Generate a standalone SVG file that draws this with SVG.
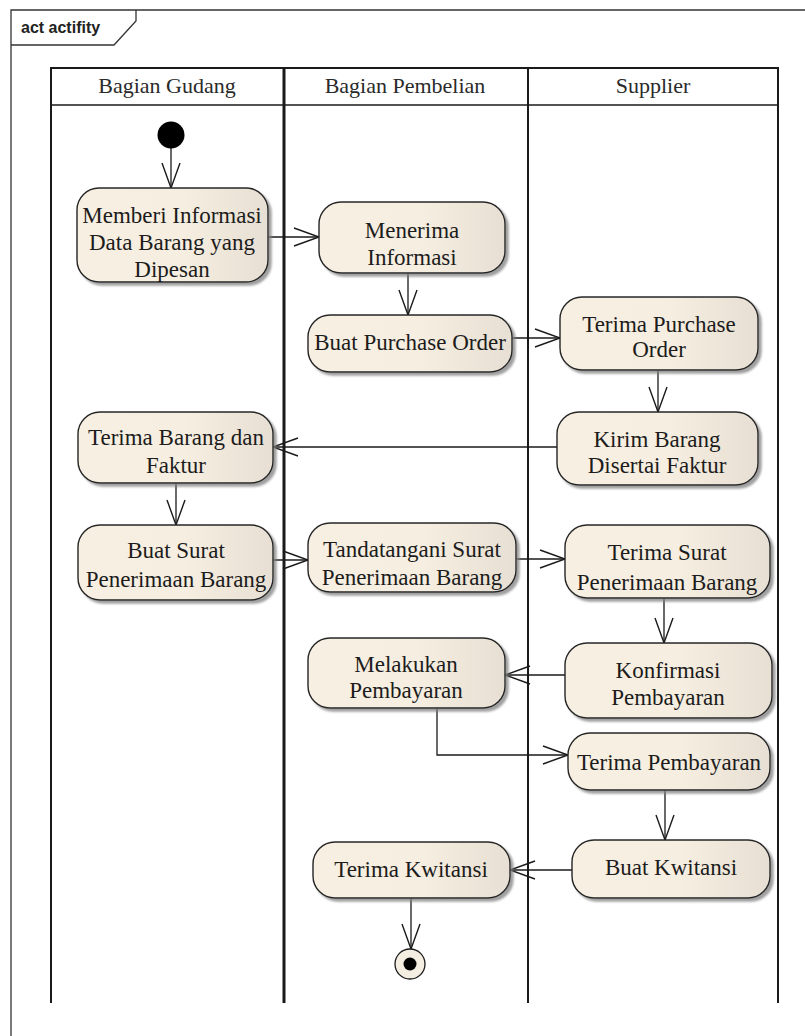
<svg xmlns="http://www.w3.org/2000/svg" width="805" height="1036" viewBox="0 0 805 1036">
  <defs>
    <linearGradient id="nodeFill" x1="0" y1="0" x2="1" y2="0">
      <stop offset="0" stop-color="#f7efe1"/>
      <stop offset="0.55" stop-color="#f6eee0"/>
      <stop offset="1" stop-color="#e7dfd3"/>
    </linearGradient>
    <filter id="shadow" x="-10%" y="-10%" width="130%" height="140%">
      <feDropShadow dx="3" dy="3" stdDeviation="1.2" flood-color="#808080" flood-opacity="0.75"/>
    </filter>
    <marker id="open" markerUnits="userSpaceOnUse" markerWidth="30" markerHeight="24" refX="25" refY="10" orient="auto" overflow="visible">
      <path d="M0,1 L25,10 L0,19" fill="none" stroke="#1a1a1a" stroke-width="1.4"/>
    </marker>
    <style>
      .frame { fill: none; stroke: #333; stroke-width: 1.3; }
      .lane { stroke: #1a1a1a; fill: none; }
      .hdr { font-family: "Liberation Serif", "Times New Roman", serif; font-size: 22px; fill: #2a2a2a; text-anchor: middle; }
      .act rect { fill: url(#nodeFill); stroke: #262626; stroke-width: 1.4; filter: url(#shadow); }
      .act text { font-family: "Liberation Serif", "Times New Roman", serif; font-size: 23px; fill: #1c1c1c; text-anchor: middle; }
      .flow { fill: none; stroke: #1a1a1a; stroke-width: 1.3; marker-end: url(#open); }
    </style>
  </defs>

  <rect width="805" height="1036" fill="#ffffff"/>

  <!-- diagram frame with name tab -->
  <g id="frame">
    <path class="frame" d="M11,1040 L11,10 L810,10"/>
    <path class="frame" d="M11,45 L114,45 L136,21 L136,10"/>
    <text x="21" y="33" font-family="Liberation Sans, Arial, sans-serif" font-size="16" font-weight="bold" fill="#222">act actifity</text>
  </g>

  <!-- swimlanes -->
  <g id="lanes">
    <line class="lane" x1="51" y1="68" x2="778" y2="68" stroke-width="2"/>
    <line class="lane" x1="51" y1="105" x2="778" y2="105" stroke-width="1.5"/>
    <line class="lane" x1="51" y1="67" x2="51" y2="1003" stroke-width="2"/>
    <line class="lane" x1="284" y1="67" x2="284" y2="1003" stroke-width="3"/>
    <line class="lane" x1="528" y1="67" x2="528" y2="1003" stroke-width="2"/>
    <line class="lane" x1="778" y1="67" x2="778" y2="1003" stroke-width="2"/>
    <text class="hdr" x="167" y="93">Bagian Gudang</text>
    <text class="hdr" x="405" y="93">Bagian Pembelian</text>
    <text class="hdr" x="653" y="93">Supplier</text>
  </g>

  <!-- control flows -->
  <g id="connectors">
    <path class="flow" d="M171,148 L171,188"/>
    <path class="flow" d="M268,237 L319,237"/>
    <path class="flow" d="M408,273 L408,315"/>
    <path class="flow" d="M512,338 L560,338"/>
    <path class="flow" d="M658,370 L658,412"/>
    <path class="flow" d="M557,447 L273,447"/>
    <path class="flow" d="M176,483 L176,525"/>
    <path class="flow" d="M273,560 L308,560"/>
    <path class="flow" d="M516,559 L565,559"/>
    <path class="flow" d="M664,598 L664,643"/>
    <path class="flow" d="M565,675 L505,675"/>
    <path class="flow" d="M437,708 L437,755 L568,755"/>
    <path class="flow" d="M665,790 L665,840"/>
    <path class="flow" d="M572,870 L510,870"/>
    <path class="flow" d="M411,898 L411,949"/>
  </g>

  <!-- initial node -->
  <g id="start">
    <circle cx="171" cy="135" r="13.5" fill="#000"/>
  </g>

  <!-- Bagian Gudang actions -->
  <g id="memberi-informasi" class="act">
    <rect x="77" y="188" width="191" height="94" rx="22"/>
    <text x="172" y="223">Memberi Informasi</text>
    <text x="172" y="250">Data Barang yang</text>
    <text x="172" y="277">Dipesan</text>
  </g>
  <g id="terima-barang" class="act">
    <rect x="78" y="412" width="195" height="71" rx="22"/>
    <text x="176" y="445">Terima Barang dan</text>
    <text x="176" y="473">Faktur</text>
  </g>
  <g id="buat-surat" class="act">
    <rect x="78" y="525" width="195" height="75" rx="22"/>
    <text x="176" y="558">Buat Surat</text>
    <text x="176" y="587">Penerimaan Barang</text>
  </g>

  <!-- Bagian Pembelian actions -->
  <g id="menerima-informasi" class="act">
    <rect x="319" y="202" width="186" height="71" rx="22"/>
    <text x="412" y="238">Menerima</text>
    <text x="412" y="265">Informasi</text>
  </g>
  <g id="buat-po" class="act">
    <rect x="308" y="315" width="204" height="57" rx="22"/>
    <text x="410" y="350">Buat Purchase Order</text>
  </g>
  <g id="tandatangani" class="act">
    <rect x="308" y="523" width="208" height="69" rx="22"/>
    <text x="412" y="557">Tandatangani Surat</text>
    <text x="412" y="585">Penerimaan Barang</text>
  </g>
  <g id="melakukan-pembayaran" class="act">
    <rect x="308" y="638" width="197" height="70" rx="22"/>
    <text x="406" y="672">Melakukan</text>
    <text x="406" y="698">Pembayaran</text>
  </g>
  <g id="terima-kwitansi" class="act">
    <rect x="313" y="842" width="197" height="56" rx="22"/>
    <text x="411" y="877">Terima Kwitansi</text>
  </g>

  <!-- Supplier actions -->
  <g id="terima-po" class="act">
    <rect x="560" y="297" width="198" height="73" rx="22"/>
    <text x="659" y="332">Terima Purchase</text>
    <text x="659" y="357">Order</text>
  </g>
  <g id="kirim-barang" class="act">
    <rect x="557" y="412" width="201" height="73" rx="22"/>
    <text x="657" y="447">Kirim Barang</text>
    <text x="657" y="473">Disertai Faktur</text>
  </g>
  <g id="terima-surat" class="act">
    <rect x="565" y="525" width="205" height="73" rx="22"/>
    <text x="667" y="560">Terima Surat</text>
    <text x="667" y="590">Penerimaan Barang</text>
  </g>
  <g id="konfirmasi" class="act">
    <rect x="565" y="643" width="207" height="75" rx="22"/>
    <text x="668" y="678">Konfirmasi</text>
    <text x="668" y="705">Pembayaran</text>
  </g>
  <g id="terima-pembayaran" class="act">
    <rect x="568" y="733" width="202" height="57" rx="22"/>
    <text x="669" y="770">Terima Pembayaran</text>
  </g>
  <g id="buat-kwitansi" class="act">
    <rect x="572" y="840" width="198" height="58" rx="22"/>
    <text x="671" y="875">Buat Kwitansi</text>
  </g>

  <!-- final node -->
  <g id="end">
    <circle cx="410" cy="964" r="15" fill="#f4ede2" stroke="#1a1a1a" stroke-width="1.3"/>
    <circle cx="410" cy="964" r="6.5" fill="#000"/>
  </g>
</svg>
